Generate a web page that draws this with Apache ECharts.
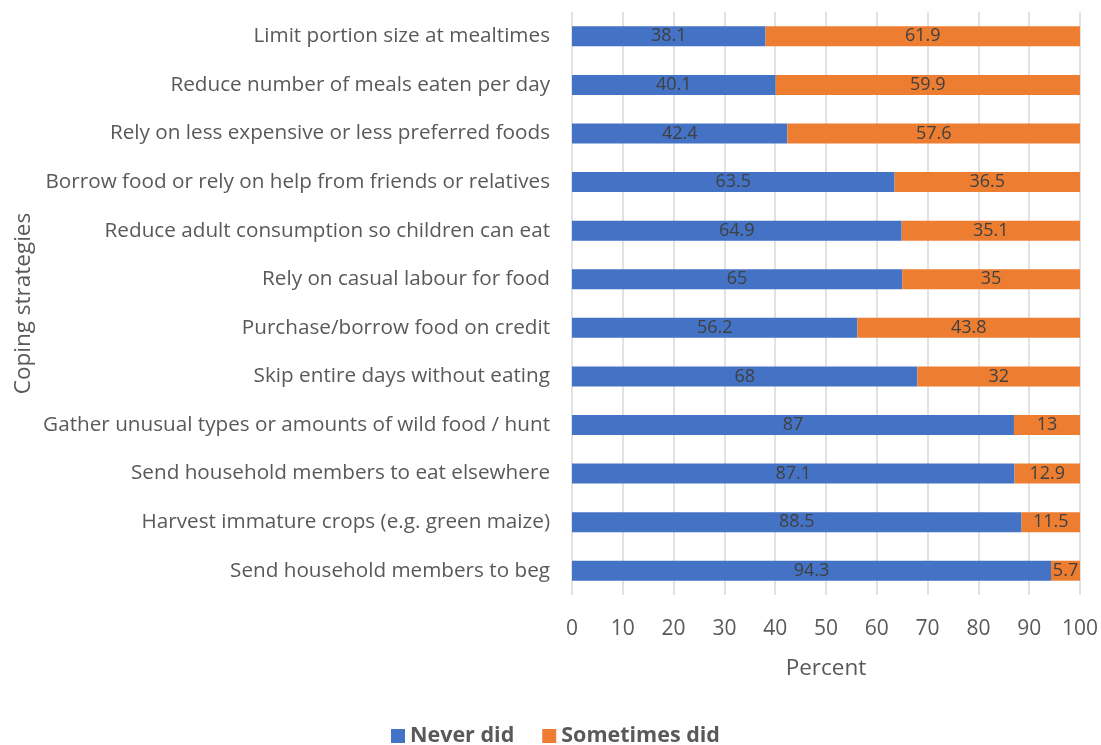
<!DOCTYPE html>
<html>
<head>
<meta charset="utf-8">
<script src="https://cdn.jsdelivr.net/npm/echarts@6/dist/echarts.min.js"></script>
<style>
  html, body { margin: 0; padding: 0; background: #ffffff; }
  #chart { width: 1101px; height: 745px; }
</style>
</head>
<body>
<div id="chart"></div>
<script>
// Household food coping strategies, listed top to bottom
const categories = [
  'Limit portion size at mealtimes',
  'Reduce number of meals eaten per day',
  'Rely on less expensive or less preferred foods',
  'Borrow food or rely on help from friends or relatives',
  'Reduce adult consumption so children can eat',
  'Rely on casual labour for food',
  'Purchase/borrow food on credit',
  'Skip entire days without eating',
  'Gather unusual types or amounts of wild food / hunt',
  'Send household members to eat elsewhere',
  'Harvest immature crops (e.g. green maize)',
  'Send household members to beg'
];
const neverDid = [38.1, 40.1, 42.4, 63.5, 64.9, 65, 56.2, 68, 87, 87.1, 88.5, 94.3];
const sometimesDid = [61.9, 59.9, 57.6, 36.5, 35.1, 35, 43.8, 32, 13, 12.9, 11.5, 5.7];
const xTicks = [0, 10, 20, 30, 40, 50, 60, 70, 80, 90, 100];

const FONT = 'Open Sans';
const chart = echarts.init(document.getElementById('chart'), null, { renderer: 'canvas' });

const labelStyle = {
  show: true,
  position: 'inside',
  formatter: '{c}',
  color: '#404040',
  fontFamily: FONT,
  fontSize: 18
};

chart.setOption({
  animation: false,
  textStyle: { fontFamily: FONT },
  grid: { left: 572, right: 20, top: 12, bottom: 150, containLabel: false },
  legend: {
    data: ['Never did', 'Sometimes did'],
    left: 386,
    top: 720,
    itemWidth: 14,
    itemHeight: 14,
    itemGap: 28,
    icon: 'rect',
    textStyle: { color: '#595959', fontFamily: FONT, fontSize: 21.5, fontWeight: 'bold' }
  },
  xAxis: {
    type: 'value',
    min: xTicks[0],
    max: xTicks[xTicks.length - 1],
    interval: 10,
    name: 'Percent',
    nameLocation: 'middle',
    nameGap: 62,
    nameTextStyle: { color: '#595959', fontFamily: FONT, fontSize: 22.5 },
    axisLine: { show: false },
    axisTick: { show: false },
    axisLabel: { color: '#595959', fontFamily: FONT, fontSize: 21, margin: 24 },
    splitLine: { show: true, lineStyle: { color: '#D9D9D9', width: 1.5 } }
  },
  yAxis: {
    type: 'category',
    data: categories,
    inverse: true,
    name: 'Coping strategies',
    nameLocation: 'middle',
    nameGap: 537,
    nameRotate: 90,
    nameTextStyle: { color: '#595959', fontFamily: FONT, fontSize: 22.5 },
    axisLine: { show: false },
    axisTick: { show: false },
    axisLabel: { color: '#595959', fontFamily: FONT, fontSize: 20.7, margin: 22 },
    splitLine: { show: false }
  },
  series: [
    {
      name: 'Never did',
      type: 'bar',
      stack: 'total',
      data: neverDid,
      barWidth: 20,
      itemStyle: { color: '#4472C4' },
      label: labelStyle
    },
    {
      name: 'Sometimes did',
      type: 'bar',
      stack: 'total',
      data: sometimesDid,
      barWidth: 20,
      itemStyle: { color: '#ED7D31' },
      label: labelStyle
    }
  ]
});
</script>
</body>
</html>
